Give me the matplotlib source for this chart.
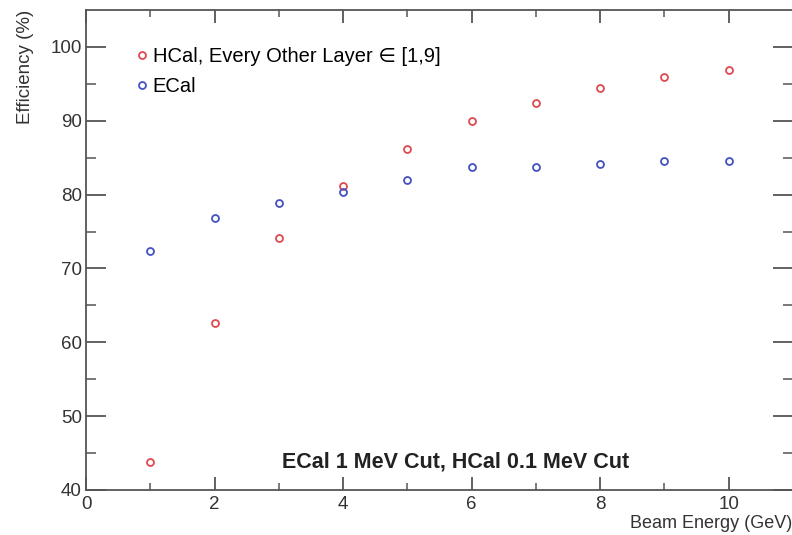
import matplotlib.pyplot as plt

plt.rcParams['font.family'] = ['Liberation Sans', 'DejaVu Sans']

energy = [1, 2, 3, 4, 5, 6, 7, 8, 9, 10]
hcal_eff = [43.8, 62.6, 74.1, 81.1, 86.2, 90.0, 92.4, 94.4, 95.9, 96.9]
ecal_eff = [72.3, 76.8, 78.8, 80.3, 82.0, 83.7, 83.8, 84.1, 84.6, 84.6]

red = '#e04850'
blue = '#4252c4'

fig = plt.figure(figsize=(7.92, 5.35), dpi=100)
ax = fig.add_axes([86 / 792, 1 - 490 / 535, (793 - 86) / 792, (490 - 10) / 535])

ax.plot(energy, hcal_eff, 'o', mfc='none', mec=red, ms=5, mew=1.3,
        label='HCal, Every Other Layer \u2208 [1,9]')
ax.plot(energy, ecal_eff, 'o', mfc='none', mec=blue, ms=5, mew=1.3,
        label='ECal')

ax.set_xlim(0, 11)
ax.set_ylim(40, 105)
ax.set_xticks([0, 2, 4, 6, 8, 10])
ax.set_xticks([1, 3, 5, 7, 9], minor=True)
ax.set_yticks([40, 50, 60, 70, 80, 90, 100])
ax.set_yticks([45, 55, 65, 75, 85, 95], minor=True)

ax.tick_params(axis='both', which='both', direction='in', top=True, right=True,
               color='#555555', labelsize=13.5, labelcolor='#333333')
ax.tick_params(axis='x', which='major', length=9.5, width=1.3, pad=4)
ax.tick_params(axis='x', which='minor', length=5, width=1.1)
ax.tick_params(axis='y', which='major', length=14.5, width=1.3, pad=3)
ax.tick_params(axis='y', which='minor', length=7, width=1.1)
for s in ax.spines.values():
    s.set_color('#555555')
    s.set_linewidth(1.3)

ax.set_xlabel('Beam Energy (GeV)', fontsize=13, color='#333333')
ax.xaxis.set_label_coords(0.9985, -0.053)
ax.xaxis.label.set_horizontalalignment('right')
ax.set_ylabel('Efficiency (%)', fontsize=13.5, color='#333333')
ax.yaxis.set_label_coords(-0.085, 1.0)
ax.yaxis.label.set_verticalalignment('center')
ax.yaxis.label.set_horizontalalignment('right')

ax.legend(loc='upper left', bbox_to_anchor=(0.053, 0.939), frameon=False,
          fontsize=14.5, handletextpad=0.05, handlelength=1.0,
          labelspacing=0.55, borderaxespad=0)

ax.text(0.5225, 0.059, 'ECal 1 MeV Cut, HCal 0.1 MeV Cut', transform=ax.transAxes,
        ha='center', va='center', fontsize=15.5, fontweight='bold', color='#222222')

fig.savefig('out.png', dpi=100)
